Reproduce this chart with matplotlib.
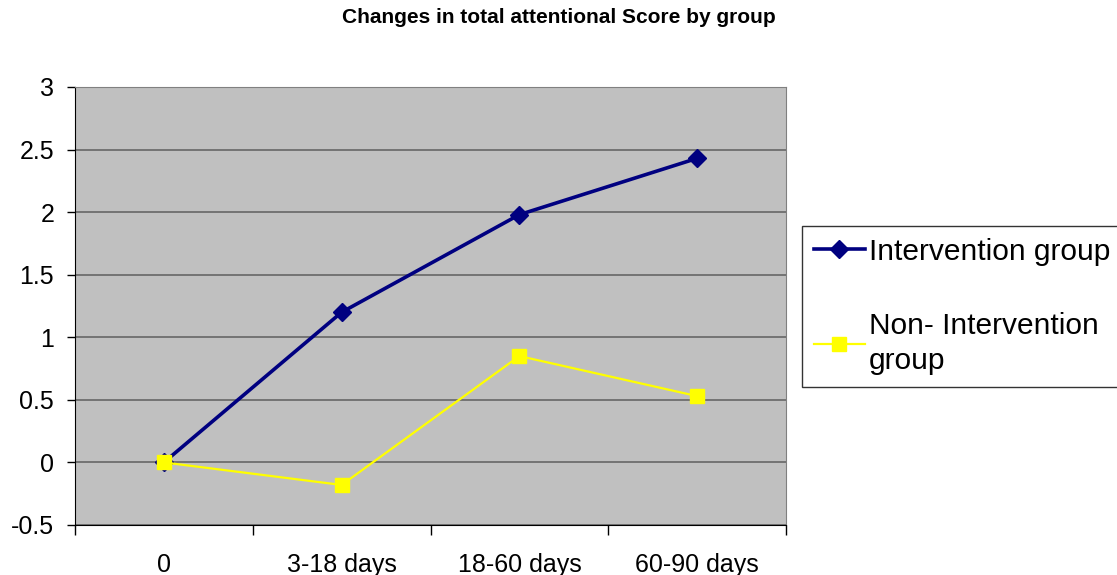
from matplotlib import pyplot as plt

categories = ["0", "3-18 days", "18-60 days", "60-90 days"]
intervention = [0, 1.2, 1.98, 2.43]
non_intervention = [0, -0.18, 0.85, 0.53]

plt.rcParams["font.family"] = ["Liberation Sans", "DejaVu Sans"]

fig = plt.figure(figsize=(11.17, 5.75), dpi=100)
ax = fig.add_axes([75 / 1117, 50 / 575, 711 / 1117, 438 / 575])
ax.set_facecolor("#C0C0C0")

x = list(range(len(categories)))
ax.plot(x, intervention, color="#000080", lw=2.6, marker="D", ms=9,
        label="Intervention group", zorder=3)
ax.plot(x, non_intervention, color="#FFFF00", lw=1.6, marker="s", ms=10,
        label="Non- Intervention\ngroup", zorder=4)

ax.set_xlim(-0.5, len(categories) - 0.5)
ax.set_ylim(-0.5, 3)
ax.set_yticks([-0.5, 0, 0.5, 1, 1.5, 2, 2.5, 3])
ax.set_yticklabels(["-0.5", "0", "0.5", "1", "1.5", "2", "2.5", "3"], fontsize=18)
ax.set_xticks(x)
ax.set_xticklabels(categories, fontsize=18)
ax.set_xticks([i - 0.5 for i in range(len(categories) + 1)], minor=True)
ax.tick_params(axis="x", which="major", length=0, pad=20)
ax.tick_params(axis="x", which="minor", length=7, width=1, color="black")
ax.tick_params(axis="y", length=6, width=1, pad=9)
ax.grid(axis="y", color="#666666", lw=1.2)
ax.set_axisbelow(True)

for s in ["top", "right"]:
    ax.spines[s].set_color("#808080")
for s in ["left", "bottom"]:
    ax.spines[s].set_color("black")

fig.suptitle("Changes in total attentional Score by group", fontsize=15,
             fontweight="bold", x=559 / 1117, y=1 - 8 / 575, va="top")

leg = fig.legend(loc="upper left", bbox_to_anchor=(802 / 1117, 1 - 226 / 575),
                 fontsize=21.5, frameon=True, fancybox=False, edgecolor="black",
                 handlelength=1.7, handletextpad=0.15, labelspacing=1.55,
                 borderaxespad=0, borderpad=0.4)
leg.get_frame().set_linewidth(1)
for t in leg.get_texts():
    t.set_linespacing(1.3)

fig.savefig("out.png", dpi=100)
